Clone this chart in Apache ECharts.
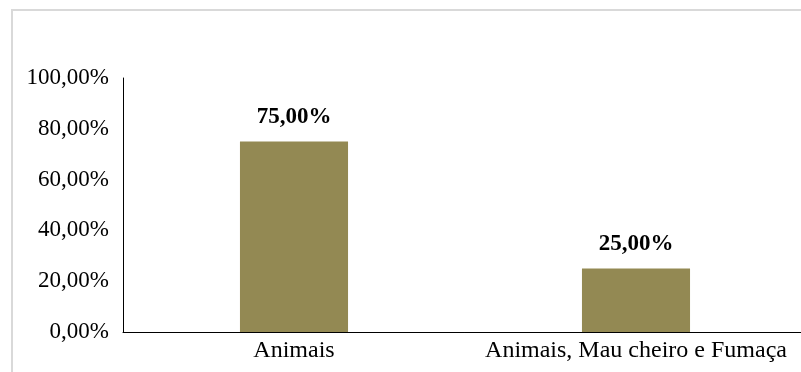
<!DOCTYPE html>
<html>
<head>
<meta charset="utf-8">
<script src="https://cdn.jsdelivr.net/npm/echarts@6/dist/echarts.min.js"></script>
<style>
html, body { margin: 0; padding: 0; background: #fff; overflow: hidden; }
#main { width: 812px; height: 372px; }
</style>
</head>
<body>
<div id="main"></div>
<script>
var categories = ['Animais', 'Animais, Mau cheiro e Fumaça'];
var percentages = [75, 25];
var yTicks = [0, 20, 40, 60, 80, 100];

function fmt(v) {
    return v.toFixed(2).replace('.', ',') + '%';
}

var myChart = echarts.init(document.getElementById('main'));
myChart.setOption({
    animation: false,
    textStyle: { fontFamily: 'Liberation Serif' },
    graphic: [{
        type: 'rect',
        shape: { x: 12, y: 10, width: 820, height: 400 },
        style: { fill: 'none', stroke: '#d9d9d9', lineWidth: 2 },
        silent: true
    }],
    grid: { left: 123, width: 684, top: 78, height: 254 },
    xAxis: {
        type: 'category',
        data: categories,
        axisLine: { lineStyle: { color: '#000', width: 1 } },
        axisTick: { show: false },
        axisLabel: {
            color: '#000', fontSize: 24, margin: 7, fontFamily: 'Liberation Serif',
            interval: 0, hideOverlap: false
        }
    },
    yAxis: {
        type: 'value',
        min: yTicks[0],
        max: yTicks[yTicks.length - 1],
        interval: 20,
        axisLine: { show: true, lineStyle: { color: '#000', width: 1 } },
        axisTick: { show: false },
        splitLine: { show: false },
        axisLabel: {
            color: '#000', fontSize: 23, margin: 14, fontFamily: 'Liberation Serif',
            formatter: function (v) { return fmt(v); }
        }
    },
    series: [{
        type: 'bar',
        data: percentages,
        barWidth: '31.6%',
        itemStyle: { color: '#938953' },
        label: {
            show: true,
            position: 'top',
            distance: 13,
            color: '#000',
            fontSize: 23,
            fontWeight: 'bold',
            fontFamily: 'Liberation Serif',
            formatter: function (p) { return fmt(p.value); }
        }
    }]
});
</script>
</body>
</html>
